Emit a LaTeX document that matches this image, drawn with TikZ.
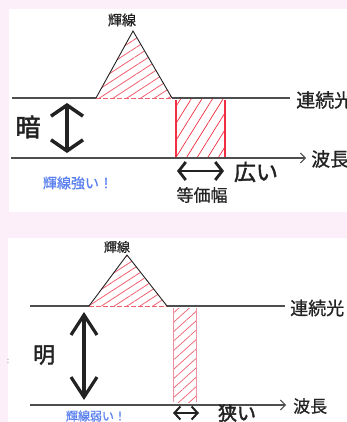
\documentclass[tikz,border=0pt]{standalone}
\usepackage{fontspec}
\newfontfamily\jp[FakeBold=0.8]{Noto Sans CJK JP}
\newfontfamily\jpb[FakeBold=2]{Noto Sans CJK JP}
\usetikzlibrary{arrows.meta,patterns.meta}
\definecolor{bgpink}{HTML}{FDEFFA}
\definecolor{ink}{HTML}{222222}
\definecolor{hatchred}{HTML}{F06070}
\definecolor{rectred}{HTML}{F03040}
\definecolor{pinkline}{HTML}{F090A0}
\definecolor{blueTxt}{HTML}{5A80F0}
\tikzset{
  axis/.style={draw=ink!80,line width=1.3pt},
  lbl/.style={font=\jp,text=ink,inner sep=0pt},
  bluelbl/.style={font=\jp,text=blueTxt,inner sep=0pt},
  axarrow/.style={axis,-{Straight Barb[length=5pt,width=10pt,line width=1pt]}},
}
\begin{document}
\begin{tikzpicture}[x=1pt,y=-1pt]
\useasboundingbox (0,0) rectangle (347,422);
\fill[bgpink] (0,0) rectangle (347,422);
\fill[white] (9,9) rectangle (347,212);
\fill[white] (8,238) rectangle (347,422);

% ---------- top panel ----------
\coordinate (c1l) at (12,98);
\coordinate (t1l) at (96,98);
\coordinate (t1a) at (133,31);
\coordinate (t1r) at (172,98);
\coordinate (c1r) at (290,98);
\coordinate (w1l) at (11,158);
\coordinate (w1r) at (306,158);
\fill[pattern={Lines[angle=33,distance=7.5pt,line width=0.8pt]},pattern color=hatchred] (t1l)--(t1a)--(t1r)--cycle;
\draw[hatchred,line width=0.8pt,dash pattern=on 5pt off 2pt] (t1l)--(t1r);
\draw[axis] (c1l)--(t1l);
\draw[axis] (t1r)--(c1r);
\draw[ink,line width=0.9pt] (t1l)--(t1a)--(t1r);
\fill[pattern={Lines[angle=58,distance=9pt,line width=0.7pt]},pattern color=rectred] (176,100) rectangle (225,158);
\draw[rectred,line width=1.1pt] (176,100)--(176,158) (225,100)--(225,158);
\draw[axarrow] (w1l)--(w1r);
\node[lbl,font=\jp\fontsize{14}{14}\selectfont] (ks1) at (122,20) {輝線};
\node[lbl,font=\jp\fontsize{19}{19}\selectfont,anchor=west] (rz1) at (296,100) {連続光};
\node[lbl,font=\jp\fontsize{19}{19}\selectfont,anchor=west] (hc1) at (311,159) {波長};
\node[lbl,font=\jpb\fontsize{25}{25}\selectfont] (an) at (28,127) {暗};
\coordinate (va1) at (67,103);
\coordinate (vb1) at (67,153);
\draw[ink,line width=3.5pt,{Straight Barb[length=11pt,width=32pt,line width=3.5pt]}-{Straight Barb[length=11pt,width=32pt,line width=3.5pt]}] (va1)--(vb1);
\coordinate (ha1) at (177,171);
\coordinate (hb1) at (224,171);
\draw[ink,line width=2.8pt,{Straight Barb[length=7pt,width=18pt,line width=2.8pt]}-{Straight Barb[length=7pt,width=18pt,line width=2.8pt]}] (ha1)--(hb1);
\node[lbl,font=\jpb\fontsize{22}{22}\selectfont] (hr) at (256,172) {広い};
\node[lbl,font=\jp\fontsize{17}{17}\selectfont] (tk) at (202,195) {等価幅};
\node[bluelbl,font=\jp\fontsize{14}{14}\selectfont] (ky) at (78,183) {輝線強い！};

% ---------- bottom panel ----------
\coordinate (c2l) at (30,306);
\coordinate (t2l) at (89,306);
\coordinate (t2a) at (127,255);
\coordinate (t2r) at (167,306);
\coordinate (c2r) at (285,306);
\coordinate (w2l) at (30,405);
\coordinate (w2r) at (286,405);
\fill[pattern={Lines[angle=33,distance=7pt,line width=0.8pt]},pattern color=hatchred] (t2l)--(t2a)--(t2r)--cycle;
\draw[hatchred,line width=0.8pt,dash pattern=on 5pt off 2pt] (t2l)--(t2r);
\draw[axis,line width=1.1pt] (c2l)--(t2l);
\draw[axis,line width=1.1pt] (t2r)--(c2r);
\draw[ink,line width=0.9pt] (t2l)--(t2a)--(t2r);
\fill[pattern={Lines[angle=42,distance=7pt,line width=0.7pt]},pattern color=hatchred] (173,308) rectangle (196,402);
\draw[pinkline,line width=1pt] (173,308)--(173,402) (196,308)--(196,402);
\draw[axarrow,line width=1.1pt] (w2l)--(w2r);
\node[lbl,font=\jp\fontsize{13}{13}\selectfont] (ks2) at (117,247) {輝線};
\node[lbl,font=\jp\fontsize{18}{18}\selectfont,anchor=west] (rz2) at (290,308) {連続光};
\node[lbl,font=\jp\fontsize{17}{17}\selectfont,anchor=west] (hc2) at (293,406) {波長};
\node[lbl,font=\jpb\fontsize{22}{22}\selectfont] (mei) at (44,355) {明};
\node[lbl,text=ink!40,font=\jp\fontsize{8}{8}\selectfont] (dots) at (8,361) {:};
\coordinate (va2) at (84,312);
\coordinate (vb2) at (84,400);
\draw[ink,line width=3.2pt,{Straight Barb[length=20pt,width=26pt,line width=3.2pt]}-{Straight Barb[length=20pt,width=26pt,line width=3.2pt]}] (va2)--(vb2);
\coordinate (ha2) at (173,413);
\coordinate (hb2) at (199,413);
\draw[ink,line width=2pt,{Straight Barb[length=6pt,width=13pt,line width=2pt]}-{Straight Barb[length=6pt,width=13pt,line width=2pt]}] (ha2)--(hb2);
\node[lbl,font=\jpb\fontsize{19}{19}\selectfont] (sm) at (237,413) {狭い};
\node[bluelbl,font=\jp\fontsize{12}{12}\selectfont] (kw) at (96,416) {輝線弱い！};
\end{tikzpicture}
\end{document}
